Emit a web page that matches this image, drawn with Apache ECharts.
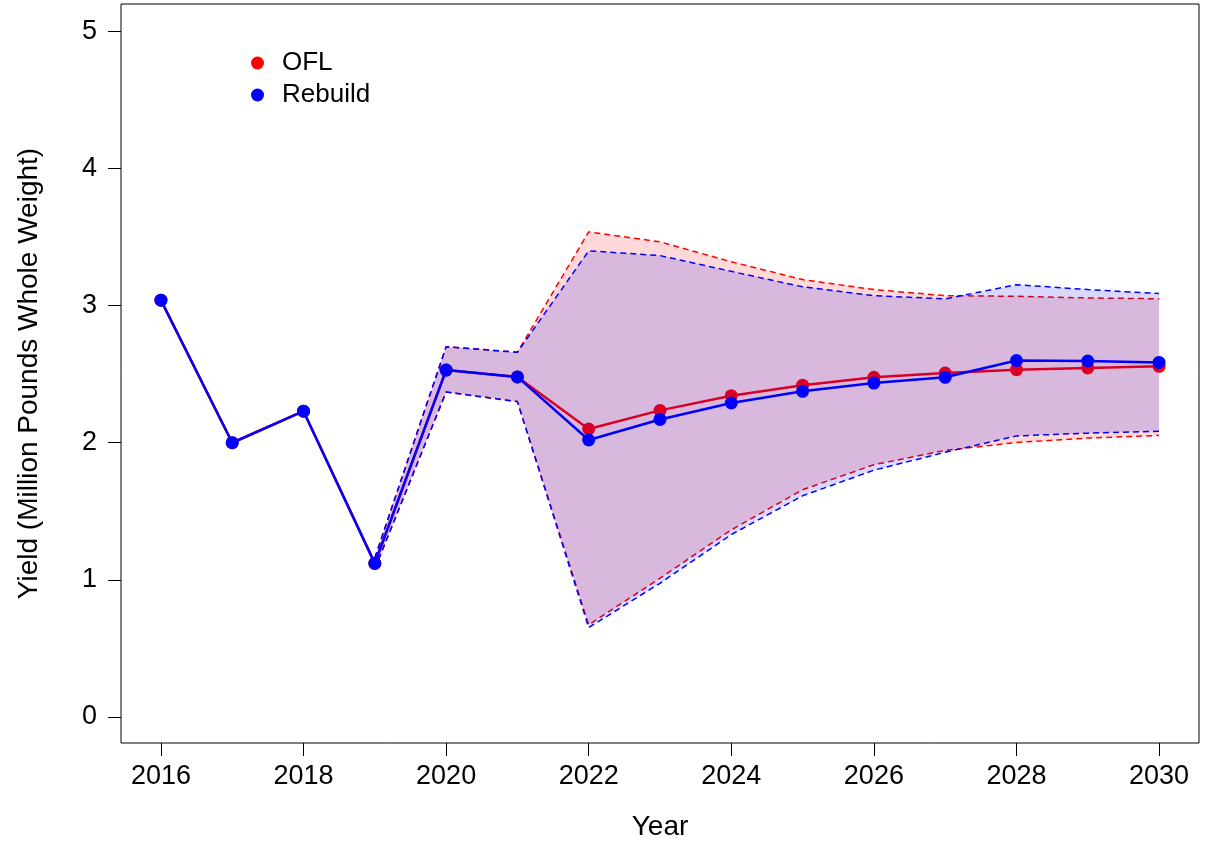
<!DOCTYPE html>
<html>
<head>
<meta charset="utf-8">
<title>Yield projections</title>
<script src="https://cdn.jsdelivr.net/npm/echarts@6/dist/echarts.min.js"></script>
<style>
  html, body { margin: 0; padding: 0; background: #fff; }
  #main { width: 1206px; height: 844px; }
</style>
</head>
<body>
<div id="main"></div>
<script>
// years and point estimates
var years = [2016, 2017, 2018, 2019, 2020, 2021, 2022, 2023, 2024, 2025, 2026, 2027, 2028, 2029, 2030];
var oflYield = [3.04, 2.00, 2.23, 1.12, 2.53, 2.48, 2.10, 2.236, 2.343, 2.42, 2.477, 2.508, 2.533, 2.545, 2.557];
var rebuildYield = [3.04, 2.00, 2.23, 1.12, 2.53, 2.48, 2.02, 2.17, 2.29, 2.375, 2.435, 2.477, 2.60, 2.596, 2.586];

// uncertainty bands (start 2019)
var bandYears = [2019, 2020, 2021, 2022, 2023, 2024, 2025, 2026, 2027, 2028, 2029, 2030];
var oflLow = [1.08, 2.37, 2.30, 0.672, 1.012, 1.365, 1.657, 1.84, 1.944, 2.002, 2.034, 2.053];
var oflHigh = [1.16, 2.70, 2.66, 3.538, 3.465, 3.32, 3.19, 3.117, 3.073, 3.068, 3.056, 3.05];
var rebuildLow = [1.08, 2.37, 2.30, 0.652, 0.975, 1.33, 1.613, 1.80, 1.93, 2.05, 2.07, 2.083];
var rebuildHigh = [1.16, 2.70, 2.66, 3.40, 3.365, 3.25, 3.137, 3.073, 3.049, 3.153, 3.117, 3.088];

var xTicks = [2016, 2018, 2020, 2022, 2024, 2026, 2028, 2030];
var yTicks = [0, 1, 2, 3, 4, 5];

function pairs(xs, ys) {
    return xs.map(function (x, i) { return [x, ys[i]]; });
}

var font = '"Liberation Sans", Arial, sans-serif';

// shaded polygon between lo and hi, drawn once through the axis scales
function band(name, lo, hi, fill, z) {
    return {
        name: name, type: 'custom', z: z, silent: true,
        data: bandYears.map(function (x, i) { return [x, lo[i], hi[i]]; }),
        encode: { x: 0, y: [1, 2] },
        renderItem: function (params, api) {
            if (params.dataIndex !== 0) return null;
            var pts = [];
            for (var i = 0; i < bandYears.length; i++) pts.push(api.coord([bandYears[i], hi[i]]));
            for (var j = bandYears.length - 1; j >= 0; j--) pts.push(api.coord([bandYears[j], lo[j]]));
            return { type: 'polygon', shape: { points: pts }, style: { fill: fill } };
        }
    };
}
function dashed(name, ys, color, z) {
    return {
        name: name, type: 'line', z: z, data: pairs(bandYears, ys), symbol: 'none',
        lineStyle: { color: color, width: 1.5, type: [6, 4] }, silent: true
    };
}

var series = [];
series.push(band('oflBand', oflLow, oflHigh, 'rgba(255,0,0,0.15)', 1));
series.push(dashed('oflLo', oflLow, '#ff0000', 2));
series.push(dashed('oflHi', oflHigh, '#ff0000', 2));
series.push({
    name: 'OFL', type: 'line', z: 3, data: pairs(years, oflYield),
    symbol: 'circle', symbolSize: 13, showAllSymbol: true,
    lineStyle: { color: '#ff0000', width: 2.5 },
    itemStyle: { color: '#ff0000' }
});
series.push(band('rebBand', rebuildLow, rebuildHigh, 'rgba(0,0,255,0.15)', 4));
series.push(dashed('rebLo', rebuildLow, '#0000ff', 5));
series.push(dashed('rebHi', rebuildHigh, '#0000ff', 5));
series.push({
    name: 'Rebuild', type: 'line', z: 6, data: pairs(years, rebuildYield),
    symbol: 'circle', symbolSize: 13, showAllSymbol: true,
    lineStyle: { color: '#0000ff', width: 2.5 },
    itemStyle: { color: '#0000ff' }
});

var myChart = echarts.init(document.getElementById('main'));
var option = {
    animation: false,
    backgroundColor: '#fff',
    grid: {
        left: 121, right: 7, top: 4, bottom: 101, outerBoundsMode: 'none',
        show: true, borderColor: '#000', borderWidth: 1, backgroundColor: 'transparent'
    },
    legend: {
        orient: 'vertical', left: 246, top: 45,
        icon: 'circle', itemWidth: 13, itemHeight: 13, itemGap: 6,
        textStyle: { fontFamily: font, fontSize: 26, color: '#000', lineHeight: 26, padding: [0, 0, 0, 13] },
        data: [
            { name: 'OFL', itemStyle: { color: '#ff0000' } },
            { name: 'Rebuild', itemStyle: { color: '#0000ff' } }
        ]
    },
    xAxis: {
        type: 'value', min: 2015.44, max: 2030.56,
        name: 'Year', nameLocation: 'middle', nameGap: 70,
        nameTextStyle: { fontFamily: font, fontSize: 28, color: '#000' },
        axisLine: { show: false, onZero: false },
        axisTick: { show: true, length: 13, customValues: xTicks, lineStyle: { color: '#000' } },
        axisLabel: {
            customValues: xTicks, margin: 20, fontFamily: font, fontSize: 27, color: '#000',
            formatter: function (v) { return String(v); }
        },
        splitLine: { show: false }
    },
    yAxis: {
        type: 'value', min: -0.19, max: 5.2,
        name: 'Yield (Million Pounds Whole Weight)', nameLocation: 'middle', nameGap: 78,
        nameTextStyle: { fontFamily: font, fontSize: 28, color: '#000' },
        axisLine: { show: false, onZero: false },
        axisTick: { show: true, length: 13, customValues: yTicks, lineStyle: { color: '#000' } },
        axisLabel: { customValues: yTicks, margin: 24, fontFamily: font, fontSize: 27, color: '#000' },
        splitLine: { show: false }
    },
    series: series
};
myChart.setOption(option);
</script>
</body>
</html>
